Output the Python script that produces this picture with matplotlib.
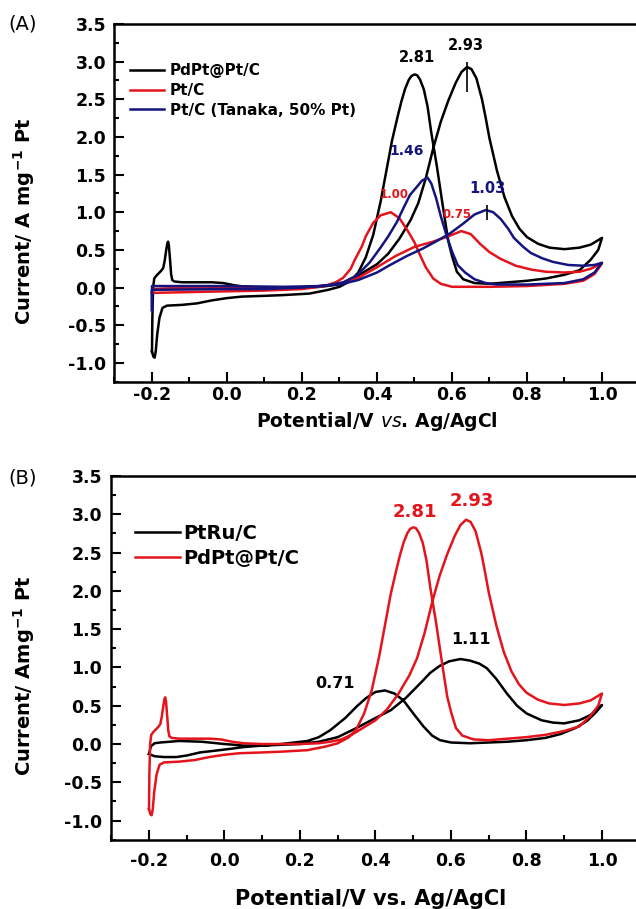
import numpy as np
import matplotlib
matplotlib.use('Agg')
import matplotlib.pyplot as plt
from matplotlib.ticker import MultipleLocator

plt.rcParams['axes.unicode_minus'] = False

# ---- PdPt@Pt/C (black in A, red in B) ----
pdpt_fwd_v = [-0.200, -0.199, -0.197, -0.194, -0.188, -0.182, -0.176, -0.170, -0.166, -0.162,
              -0.159, -0.157, -0.155, -0.152, -0.149, -0.146, -0.140, -0.120, -0.080, -0.040,
              -0.010, 0.020, 0.050, 0.100, 0.150, 0.200, 0.250, 0.280, 0.310, 0.340,
              0.370, 0.400, 0.430, 0.460, 0.490, 0.510, 0.530, 0.550, 0.570, 0.590,
              0.610, 0.625, 0.640, 0.652, 0.665, 0.680, 0.690, 0.700, 0.720, 0.740,
              0.760, 0.780, 0.800, 0.830, 0.860, 0.900, 0.940, 0.970, 1.000]
pdpt_fwd_i = [-0.85, -0.40, 0.00, 0.12, 0.16, 0.19, 0.22, 0.26, 0.36, 0.50,
              0.59, 0.61, 0.56, 0.38, 0.18, 0.10, 0.08, 0.07, 0.07, 0.07,
              0.06, 0.03, 0.01, 0.00, 0.00, 0.00, 0.01, 0.03, 0.06, 0.13,
              0.22, 0.31, 0.45, 0.65, 0.90, 1.12, 1.45, 1.85, 2.20, 2.48,
              2.72, 2.86, 2.93, 2.90, 2.78, 2.50, 2.25, 1.98, 1.55, 1.20,
              0.95, 0.78, 0.67, 0.58, 0.53, 0.51, 0.53, 0.57, 0.66]
pdpt_rev_v = [1.000, 0.990, 0.970, 0.940, 0.900, 0.850, 0.800, 0.750, 0.700, 0.660,
              0.630, 0.613, 0.600, 0.590, 0.575, 0.560, 0.545, 0.535, 0.525, 0.515,
              0.507, 0.500, 0.492, 0.485, 0.475, 0.465, 0.455, 0.440, 0.425, 0.410,
              0.390, 0.370, 0.350, 0.330, 0.300, 0.270, 0.220, 0.150, 0.100, 0.040,
              0.000, -0.040, -0.080, -0.120, -0.160, -0.172, -0.180, -0.186, -0.190, -0.193,
              -0.196, -0.199, -0.200]
pdpt_rev_i = [0.66, 0.50, 0.37, 0.23, 0.17, 0.12, 0.09, 0.07, 0.05, 0.06,
              0.11, 0.21, 0.42, 0.62, 1.10, 1.60, 2.05, 2.40, 2.63, 2.76,
              2.82, 2.83, 2.81, 2.76, 2.64, 2.47, 2.27, 1.95, 1.55, 1.15,
              0.70, 0.40, 0.20, 0.09, 0.01, -0.03, -0.08, -0.10, -0.11, -0.12,
              -0.14, -0.17, -0.21, -0.23, -0.24, -0.27, -0.40, -0.62, -0.85, -0.93,
              -0.92, -0.87, -0.85]

# ---- Pt/C ----
ptc_fwd_v = [-0.200, -0.198, -0.150, -0.100, -0.050, 0.000, 0.050, 0.100, 0.150, 0.200,
             0.250, 0.300, 0.350, 0.400, 0.450, 0.500, 0.550, 0.590, 0.625, 0.650,
             0.675, 0.700, 0.730, 0.770, 0.810, 0.850, 0.900, 0.940, 0.970, 1.000]
ptc_fwd_i = [-0.07, -0.02, -0.01, -0.01, -0.01, 0.00, 0.00, 0.00, 0.00, 0.00,
             0.02, 0.05, 0.13, 0.27, 0.42, 0.54, 0.61, 0.68, 0.75, 0.71,
             0.58, 0.47, 0.38, 0.29, 0.24, 0.21, 0.20, 0.21, 0.25, 0.32]
ptc_rev_v = [1.000, 0.980, 0.950, 0.900, 0.800, 0.700, 0.600, 0.570, 0.550, 0.530,
             0.515, 0.500, 0.480, 0.460, 0.437, 0.410, 0.390, 0.370, 0.360, 0.340,
             0.330, 0.310, 0.290, 0.260, 0.200, 0.100, 0.000, -0.100, -0.190, -0.200]
ptc_rev_i = [0.32, 0.18, 0.09, 0.05, 0.02, 0.01, 0.01, 0.05, 0.12, 0.27,
             0.43, 0.60, 0.77, 0.92, 1.00, 0.96, 0.86, 0.68, 0.55, 0.36,
             0.25, 0.13, 0.07, 0.02, -0.02, -0.04, -0.05, -0.06, -0.07, -0.07]

# ---- Pt/C (Tanaka, 50% Pt) ----
tan_fwd_v = [-0.200, -0.200, -0.150, 0.000, 0.150, 0.250, 0.300, 0.350, 0.400, 0.435,
             0.480, 0.523, 0.560, 0.595, 0.630, 0.660, 0.690, 0.710, 0.730, 0.750,
             0.765, 0.790, 0.810, 0.840, 0.870, 0.910, 0.950, 0.980, 1.000]
tan_fwd_i = [-0.30, 0.02, 0.02, 0.02, 0.01, 0.02, 0.04, 0.10, 0.20, 0.30,
             0.42, 0.52, 0.62, 0.72, 0.85, 0.97, 1.03, 1.00, 0.91, 0.78,
             0.66, 0.54, 0.46, 0.39, 0.34, 0.30, 0.29, 0.30, 0.33]
tan_rev_v = [1.000, 0.980, 0.950, 0.900, 0.800, 0.720, 0.690, 0.660, 0.635, 0.615,
             0.600, 0.585, 0.570, 0.558, 0.545, 0.535, 0.520, 0.505, 0.488, 0.470,
             0.453, 0.430, 0.408, 0.380, 0.346, 0.310, 0.270, 0.200, 0.100, 0.000,
             -0.190, -0.200, -0.200]
tan_rev_i = [0.33, 0.20, 0.11, 0.06, 0.04, 0.04, 0.06, 0.11, 0.20, 0.30,
             0.48, 0.70, 0.95, 1.18, 1.38, 1.46, 1.42, 1.33, 1.23, 1.05,
             0.87, 0.68, 0.52, 0.33, 0.16, 0.07, 0.03, 0.00, -0.02, -0.02,
             -0.03, -0.03, -0.30]

# ---- PtRu/C ----
ptru_fwd_v = [-0.200, -0.195, -0.185, -0.170, -0.120, -0.060, 0.000, 0.050, 0.100, 0.150,
              0.200, 0.250, 0.300, 0.350, 0.400, 0.440, 0.480, 0.520, 0.545, 0.570,
              0.595, 0.625, 0.650, 0.675, 0.695, 0.720, 0.748, 0.775, 0.800, 0.840,
              0.870, 0.900, 0.940, 0.970, 1.000]
ptru_fwd_i = [-0.13, -0.03, 0.01, 0.02, 0.04, 0.03, 0.00, -0.02, -0.02, -0.01,
              0.00, 0.03, 0.09, 0.21, 0.34, 0.44, 0.60, 0.80, 0.93, 1.02,
              1.08, 1.11, 1.09, 1.05, 0.99, 0.85, 0.66, 0.50, 0.40, 0.31,
              0.28, 0.27, 0.31, 0.38, 0.51]
ptru_rev_v = [1.000, 0.985, 0.960, 0.930, 0.890, 0.850, 0.800, 0.750, 0.700, 0.650,
              0.600, 0.571, 0.550, 0.527, 0.500, 0.474, 0.450, 0.425, 0.400, 0.375,
              0.350, 0.320, 0.280, 0.250, 0.220, 0.150, 0.100, 0.050, 0.020, -0.030,
              -0.065, -0.100, -0.127, -0.160, -0.185, -0.200]
ptru_rev_i = [0.51, 0.42, 0.30, 0.21, 0.13, 0.08, 0.05, 0.03, 0.02, 0.01,
              0.02, 0.05, 0.11, 0.23, 0.40, 0.57, 0.66, 0.70, 0.68, 0.60,
              0.49, 0.34, 0.18, 0.09, 0.04, 0.00, -0.02, -0.04, -0.06, -0.09,
              -0.11, -0.15, -0.17, -0.17, -0.16, -0.13]

# peak labels
peak_a_text = ['2.81', '2.93', '1.46', '1.03', '1.00', '0.75']
peak_a_x = [0.506, 0.637, 0.479, 0.694, 0.446, 0.614]
peak_a_y = [3.05, 3.21, 1.82, 1.32, 1.24, 0.97]
peak_b_text = ['2.81', '2.93', '1.11', '0.71']
peak_b_x = [0.505, 0.655, 0.652, 0.293]
peak_b_y = [3.03, 3.18, 1.37, 0.79]
# little vertical marks on the 2.93 and 1.03 peaks
mark_x = [0.640, 0.693]
mark_lo = [2.60, 0.90]
mark_hi = [3.00, 1.09]

BLACK = '#000000'
RED = '#e3141c'
BLUE = '#15147f'


def loop(fv, fi, rv, ri):
    return np.array(fv + rv), np.array(fi + ri)


def style_axis(ax, xpad, ypad):
    ax.set_xlim(-0.3, 1.1)
    ax.set_ylim(-1.25, 3.5)
    ax.xaxis.set_major_locator(MultipleLocator(0.2))
    ax.xaxis.set_minor_locator(MultipleLocator(0.1))
    ax.yaxis.set_major_locator(MultipleLocator(0.5))
    ax.yaxis.set_minor_locator(MultipleLocator(0.25))
    ax.set_xticks(np.arange(-0.2, 1.01, 0.2))
    ax.set_yticks(np.arange(-1.0, 3.51, 0.5))
    ax.tick_params(which='both', direction='in', top=False, right=False, width=1.5)
    ax.tick_params(which='major', length=7)
    ax.tick_params(which='minor', length=3.5)
    ax.tick_params(axis='x', pad=xpad, labelsize=12.5)
    ax.tick_params(axis='y', pad=ypad, labelsize=12.5)
    for lab in ax.get_xticklabels() + ax.get_yticklabels():
        lab.set_fontweight('bold')
    for sp in ax.spines.values():
        sp.set_linewidth(1.8)


fig = plt.figure(figsize=(6.36, 9.09), dpi=100)

# ---------------- (A) ----------------
axA = fig.add_axes([0.1800, 0.5801, 0.8255, 0.3935])
v, i = loop(pdpt_fwd_v, pdpt_fwd_i, pdpt_rev_v, pdpt_rev_i)
axA.plot(v, i, color=BLACK, lw=1.8, label='PdPt@Pt/C')
v, i = loop(ptc_fwd_v, ptc_fwd_i, ptc_rev_v, ptc_rev_i)
axA.plot(v, i, color=RED, lw=1.8, label='Pt/C')
v, i = loop(tan_fwd_v, tan_fwd_i, tan_rev_v, tan_rev_i)
axA.plot(v, i, color=BLUE, lw=1.8, label='Pt/C (Tanaka, 50% Pt)')
axA.vlines(mark_x, mark_lo, mark_hi, colors=[BLACK, BLACK], lw=1.2)
colors_a = [BLACK, BLACK, BLUE, BLUE, RED, RED]
sizes_a = [10.5, 10.5, 10, 10.5, 8.5, 8.5]
for t, x, y, c, s in zip(peak_a_text, peak_a_x, peak_a_y, colors_a, sizes_a):
    axA.text(x, y, t, color=c, fontsize=s, fontweight='bold', ha='center', va='center')
style_axis(axA, 3, 6)
axA.legend(loc='upper left', bbox_to_anchor=(0.03, 0.89), frameon=False,
           prop={'weight': 'bold', 'size': 11}, handlelength=2.2,
           handletextpad=0.4, labelspacing=0.3, borderpad=0, borderaxespad=0)
axA.set_xlabel('Potential/V $\\mathbf{\\it{vs}}$. Ag/AgCl', fontsize=13.5, fontweight='bold')
axA.xaxis.set_label_coords(0.5, -0.078)
axA.set_ylabel('Current/ A mg$^{\\mathbf{-1}}$ Pt', fontsize=14, fontweight='bold')
axA.yaxis.set_label_coords(-0.148, 0.45)
fig.text(0.013, 0.974, '(A)', fontsize=14, va='center', ha='left')

# ---------------- (B) ----------------
axB = fig.add_axes([0.1749, 0.0762, 0.8310, 0.4001])
v, i = loop(ptru_fwd_v, ptru_fwd_i, ptru_rev_v, ptru_rev_i)
axB.plot(v, i, color=BLACK, lw=1.8, label='PtRu/C')
v, i = loop(pdpt_fwd_v, pdpt_fwd_i, pdpt_rev_v, pdpt_rev_i)
axB.plot(v, i, color=RED, lw=1.8, label='PdPt@Pt/C')
colors_b = [RED, RED, BLACK, BLACK]
sizes_b = [13, 13, 11.5, 11.5]
for t, x, y, c, s in zip(peak_b_text, peak_b_x, peak_b_y, colors_b, sizes_b):
    axB.text(x, y, t, color=c, fontsize=s, fontweight='bold', ha='center', va='center')
style_axis(axB, 8.5, 6.5)
axB.legend(loc='upper left', bbox_to_anchor=(0.045, 0.868), frameon=False,
           prop={'weight': 'bold', 'size': 14}, handlelength=2.3,
           handletextpad=0.2, labelspacing=0.3, borderpad=0, borderaxespad=0)
axB.set_xlabel('Potential/V vs. Ag/AgCl', fontsize=15, fontweight='bold')
axB.xaxis.set_label_coords(0.49, -0.135)
axB.set_ylabel('Current/ Amg$^{\\mathbf{-1}}$ Pt', fontsize=14, fontweight='bold')
axB.yaxis.set_label_coords(-0.14, 0.45)
fig.text(0.013, 0.474, '(B)', fontsize=14, va='center', ha='left')

fig.savefig('out.png', dpi=100)
plt.close()
